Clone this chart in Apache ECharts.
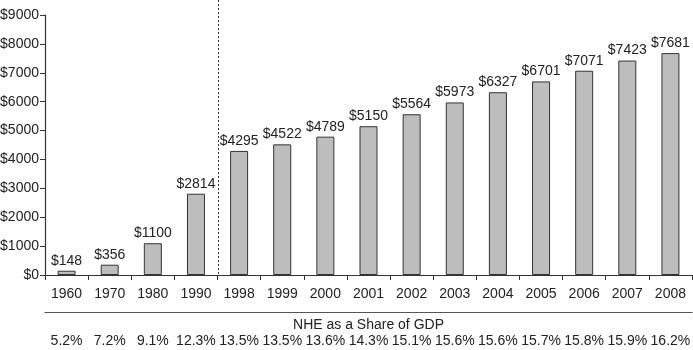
<!DOCTYPE html>
<html>
<head>
<meta charset="utf-8">
<script src="https://cdn.jsdelivr.net/npm/echarts@6/dist/echarts.min.js"></script>
<style>
  html, body { margin: 0; padding: 0; background: #fff; }
  #chart { width: 693px; height: 350px; }
</style>
</head>
<body>
<div id="chart"></div>
<script>
// 人均医疗支出 (NHE per capita) by year
var years = ['1960', '1970', '1980', '1990', '1998', '1999', '2000', '2001', '2002', '2003', '2004', '2005', '2006', '2007', '2008'];
var spending = [148, 356, 1100, 2814, 4295, 4522, 4789, 5150, 5564, 5973, 6327, 6701, 7071, 7423, 7681];
var gdpShare = ['5.2%', '7.2%', '9.1%', '12.3%', '13.5%', '13.5%', '13.6%', '14.3%', '15.1%', '15.6%', '15.6%', '15.7%', '15.8%', '15.9%', '16.2%'];

var font = 'Liberation Sans';
var ink = '#222';
var fs = 14;

var myChart = echarts.init(document.getElementById('chart'));
var option = {
  animation: false,
  textStyle: { fontFamily: font },
  grid: { left: 45, right: 1, top: 15, bottom: 75, containLabel: false, outerBoundsMode: 'none' },
  xAxis: [
    {
      type: 'category',
      data: years,
      axisLine: { lineStyle: { color: '#333', width: 1.2 } },
      axisTick: { show: true, length: 5, lineStyle: { color: '#333' } },
      axisLabel: { color: ink, fontSize: fs, margin: 12, fontFamily: font, interval: 0 }
    },
    {
      // 下方的 GDP 占比
      type: 'category',
      data: years,
      position: 'bottom',
      offset: 37,
      axisLine: { show: true, lineStyle: { color: '#555', width: 1.2 } },
      axisTick: { show: false },
      axisLabel: {
        color: ink, fontSize: fs, margin: 22, fontFamily: font, interval: 0,
        formatter: function (v, i) { return gdpShare[i]; }
      },
      name: 'NHE as a Share of GDP',
      nameLocation: 'middle',
      nameGap: 6,
      nameMoveOverlap: false,
      nameTextStyle: { color: ink, fontSize: fs, fontFamily: font }
    }
  ],
  yAxis: {
    type: 'value',
    min: 0,
    max: 9000,
    interval: 1000,
    axisLine: { show: true, lineStyle: { color: '#333', width: 1.2 } },
    axisTick: { show: true, length: 5, lineStyle: { color: '#333' } },
    splitLine: { show: false },
    axisLabel: {
      color: ink, fontSize: fs, margin: 6, fontFamily: font,
      formatter: function (v) { return '$' + v; }
    }
  },
  series: [
    {
      type: 'bar',
      data: spending,
      barWidth: 18,
      itemStyle: { color: '#bdbdbd', borderColor: '#333', borderWidth: 1 },
      label: {
        show: true,
        position: 'top',
        distance: 3,
        color: ink,
        fontSize: fs,
        fontFamily: font,
        formatter: function (p) { return '$' + p.value; }
      }
    }
  ]
};
myChart.setOption(option);

// 1990 和 1998 之间的虚线
var x1 = myChart.convertToPixel({ xAxisIndex: 0 }, 3);
var x2 = myChart.convertToPixel({ xAxisIndex: 0 }, 4);
var xm = Math.round((x1 + x2) / 2) + 0.5;
var yTop = myChart.convertToPixel({ yAxisIndex: 0 }, 9000);
var yBot = myChart.convertToPixel({ yAxisIndex: 0 }, 0);
myChart.setOption({
  graphic: [{
    type: 'line',
    shape: { x1: xm, y1: yTop - 15, x2: xm, y2: yBot },
    style: { stroke: '#333', lineWidth: 1, lineDash: [2, 2] },
    z: 10
  }]
});
</script>
</body>
</html>
